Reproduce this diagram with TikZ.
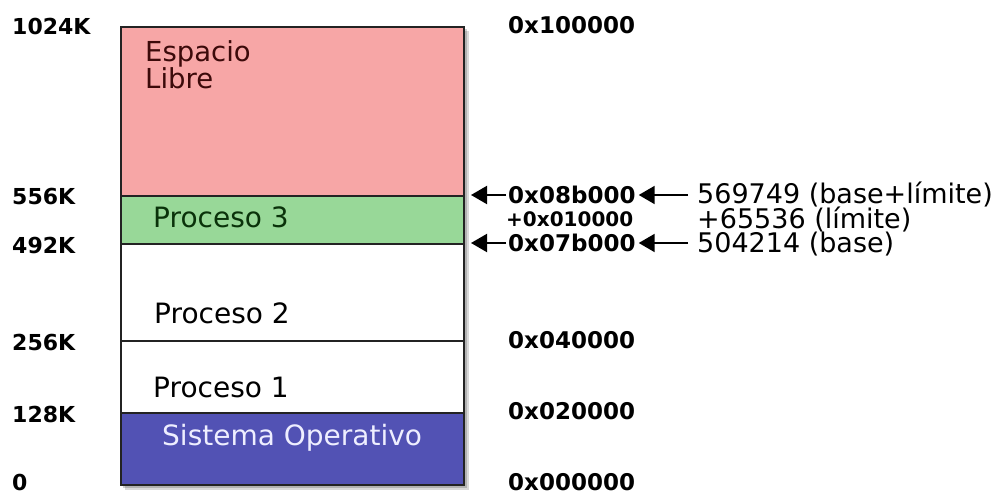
\documentclass[tikz,border=0pt]{standalone}
\usepackage{fontspec}
\setmainfont{DejaVu Sans}
\usetikzlibrary{arrows.meta}
\definecolor{libreC}{RGB}{247,166,166}
\definecolor{procC}{RGB}{152,216,152}
\definecolor{soC}{RGB}{82,82,180}
\definecolor{edgeC}{RGB}{35,35,35}
\definecolor{libreT}{RGB}{60,10,10}
\definecolor{procT}{RGB}{10,50,10}
\definecolor{soT}{RGB}{238,238,255}
\tikzset{
  region/.style={draw=edgeC, line width=1.7pt, anchor=north west, inner sep=0pt, minimum width=343pt},
  boxtext/.style={inner sep=0pt, anchor=base west, font=\fontsize{28}{23}\selectfont},
  addr/.style={inner sep=0pt, anchor=west, font=\fontsize{22}{24}\selectfont\bfseries},
  hexlab/.style={inner sep=0pt, anchor=west, font=\fontsize{23}{24}\selectfont\bfseries},
  declab/.style={inner sep=0pt, anchor=west, font=\fontsize{27}{24}\selectfont},
  arr/.style={line width=2pt, -{Triangle[length=16pt,width=18pt]}}
}
\begin{document}
\begin{tikzpicture}[x=1pt,y=-1pt]
\useasboundingbox (0,0) rectangle (998,494);
% shadow
\fill[black, opacity=0.15] (125,31) rectangle (469,490);
\fill[black, opacity=0.18] (123,29) rectangle (467,488);
% regions
\node[region, fill=libreC, minimum height=169pt] (libre) at (120,26) {};
\node[region, fill=procC, minimum height=48pt] (p3) at (120,195) {};
\node[region, fill=white, minimum height=97pt] (p2) at (120,243) {};
\node[region, fill=white, minimum height=72pt] (p1) at (120,340) {};
\node[region, fill=soC, minimum height=72pt] (so) at (120,412) {};
% region texts
\node[inner sep=0pt, anchor=north west, align=left, text=libreT, font=\fontsize{27.5}{23}\selectfont] (tlibre) at (145,40) {Espacio\\Libre};
\node[boxtext, text=procT] (tp3) at (153,228) {Proceso 3};
\node[boxtext] (tp2) at (154,323) {Proceso 2};
\node[boxtext] (tp1) at (153,397) {Proceso 1};
\node[boxtext, text=soT] (tso) at (162,445) {Sistema Operativo};
% left addresses
\node[addr] (a1024) at (12,26) {1024K};
\node[addr] (a556) at (12,197) {556K};
\node[addr] (a492) at (12,245) {492K};
\node[addr] (a256) at (12,342) {256K};
\node[addr] (a128) at (12,414) {128K};
\node[addr] (a0) at (12,482) {0};
% right hex addresses
\node[hexlab] (h100) at (508,25) {0x100000};
\node[hexlab] (h8b) at (508,195) {0x08b000};
\node[hexlab, font=\fontsize{20}{22}\selectfont\bfseries] (h10) at (506,219) {+0x010000};
\node[hexlab] (h7b) at (508,243) {0x07b000};
\node[hexlab] (h40) at (508,340) {0x040000};
\node[hexlab] (h20) at (508,411) {0x020000};
\node[hexlab] (h00) at (508,482) {0x000000};
% decimal annotations
\node[declab] (d1) at (697,194) {569749 (base+límite)};
\node[declab] (d2) at (697,219) {+65536 (límite)};
\node[declab] (d3) at (697,244) {504214 (base)};
% arrow targets
\coordinate (e1) at (471,195);
\coordinate (e2) at (471,243);
% arrows
\draw[arr] ([xshift=-2pt]h8b.west) -- (e1);
\draw[arr] ([xshift=-2pt]h7b.west) -- (e2);
\draw[arr] ([xshift=-9pt]d1.west|-h8b.east) -- ([xshift=3pt]h8b.east);
\draw[arr] ([xshift=-9pt]d3.west|-h7b.east) -- ([xshift=3pt]h7b.east);
\end{tikzpicture}
\end{document}
